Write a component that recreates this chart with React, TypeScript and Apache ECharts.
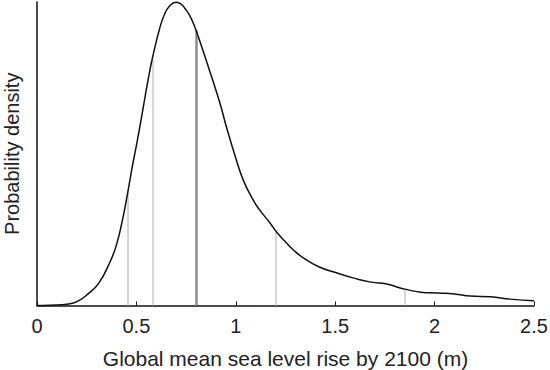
import React, { useEffect, useRef } from "react";
import * as echarts from "echarts";

const xTicks = [0, 0.5, 1, 1.5, 2, 2.5];
const densityX = [0, 0.06, 0.16, 0.21, 0.26, 0.31, 0.36, 0.397, 0.43, 0.456, 0.48, 0.495, 0.515, 0.565, 0.59, 0.615, 0.64, 0.667, 0.70, 0.725, 0.745, 0.767, 0.79, 0.817, 0.867, 0.92, 0.953, 0.995, 1.037, 1.087, 1.12, 1.172, 1.205, 1.255, 1.29, 1.34, 1.42, 1.51, 1.59, 1.68, 1.76, 1.81, 1.85, 1.93, 2.015, 2.10, 2.18, 2.28, 2.38, 2.5];
const densityY = [0, 0.001, 0.005, 0.016, 0.04, 0.073, 0.133, 0.194, 0.282, 0.371, 0.46, 0.51, 0.58, 0.766, 0.842, 0.908, 0.957, 0.987, 0.999, 0.993, 0.978, 0.957, 0.924, 0.875, 0.776, 0.667, 0.588, 0.496, 0.414, 0.348, 0.315, 0.272, 0.242, 0.206, 0.183, 0.157, 0.127, 0.107, 0.091, 0.077, 0.071, 0.061, 0.054, 0.044, 0.041, 0.038, 0.031, 0.029, 0.021, 0.016];
const percentileX = [0.456, 0.58, 0.80, 1.2, 1.85];
const percentileY = [0.38, 0.81, 0.906, 0.245, 0.054];
const percentileIsMedian = [false, false, true, false, false];

const FONT = "Liberation Sans, Arial, Helvetica, sans-serif";

export default function App() {
  const ref = useRef<HTMLDivElement>(null);
  useEffect(() => {
    if (!ref.current) return;
    const chart = echarts.init(ref.current, null, { renderer: "svg" });
    const curve = densityX.map((x, i) => [x, densityY[i]]);
    const markData = percentileX.map((x, i) => [
      {
        coord: [x, 0],
        lineStyle: percentileIsMedian[i]
          ? { color: "#8c8c8c", width: 2.5, type: "solid" }
          : { color: "#c8c8c8", width: 1.5, type: "solid" },
      },
      { coord: [x, percentileY[i]] },
    ]);
    chart.setOption({
      animation: false,
      grid: { left: 37, right: 16, top: 2, bottom: 64.5, containLabel: false, outerBoundsMode: "none" },
      xAxis: {
        type: "value",
        min: 0,
        max: 2.5,
        interval: 0.5,
        name: "Global mean sea level rise by 2100 (m)",
        nameLocation: "middle",
        nameGap: 42,
        nameTextStyle: { fontSize: 21, color: "#222", fontFamily: FONT },
        axisLine: { show: true, lineStyle: { color: "#111", width: 1.5 } },
        axisTick: { show: true, inside: true, length: 4, lineStyle: { color: "#111", width: 1 } },
        axisLabel: {
          fontSize: 20,
          color: "#222",
          margin: 10,
          fontFamily: FONT,
          formatter: (v: number) => (xTicks.includes(v) ? String(v) : ""),
        },
        splitLine: { show: false },
      },
      yAxis: {
        type: "value",
        min: 0,
        max: 1,
        name: "Probability density",
        nameLocation: "middle",
        nameGap: 15,
        nameTextStyle: { fontSize: 20, color: "#222", fontFamily: FONT },
        axisLine: { show: true, lineStyle: { color: "#111", width: 1.5 } },
        axisTick: { show: false },
        axisLabel: { show: false },
        splitLine: { show: false },
      },
      series: [
        {
          type: "line",
          data: curve,
          smooth: 0.5,
          showSymbol: false,
          clip: false,
          lineStyle: { color: "#111", width: 1.5 },
          z: 3,
          markLine: {
            silent: true,
            symbol: ["none", "none"],
            label: { show: false },
            data: markData,
            z: 1,
          },
        },
      ],
    });
    return () => chart.dispose();
  }, []);
  return <div ref={ref} style={{ width: 550, height: 370, position: "absolute", left: 0, top: 0 }} />;
}
